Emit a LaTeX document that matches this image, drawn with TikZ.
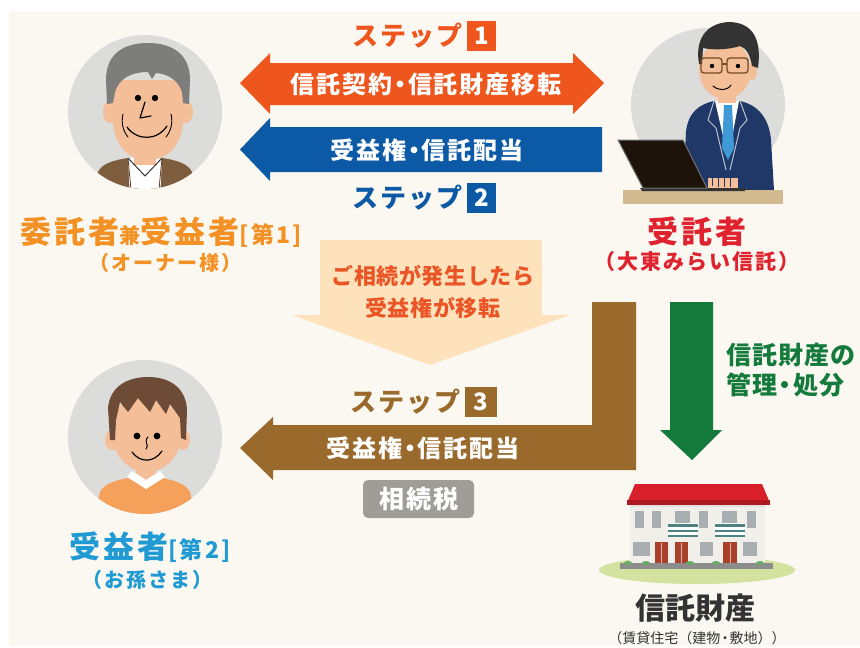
\documentclass[tikz,border=0pt]{standalone}
\usepackage{fontspec}
\newfontfamily\jp{Noto Sans CJK JP}
\newcommand{\fsz}[1]{\fontsize{#1}{#1}\selectfont}
\newcommand{\spaced}[1]{\addfontfeature{LetterSpace=#1}}
\newcommand{\tdot}{\kern-0.17em・\kern-0.17em}
\definecolor{bgbeige}{HTML}{FBF8F1}
\definecolor{stepone}{HTML}{EE561D}
\definecolor{steptwo}{HTML}{0C5AA6}
\definecolor{stepthree}{HTML}{9A6A2C}
\definecolor{peach}{HTML}{FDE2BC}
\definecolor{peachtxt}{HTML}{EB5526}
\definecolor{mgreen}{HTML}{137A3C}
\definecolor{ownerorange}{HTML}{F39124}
\definecolor{trustred}{HTML}{E0222E}
\definecolor{heirblue}{HTML}{1F9AD3}
\definecolor{taxgrey}{HTML}{A09D98}
\definecolor{darktxt}{HTML}{333333}
\definecolor{avatarbg}{HTML}{DCDCDA}
\definecolor{skin}{HTML}{F4BE98}
\definecolor{greyhair}{HTML}{7D7D7B}
\definecolor{jacket}{HTML}{7E5C3E}
\definecolor{boyhair}{HTML}{6E4B36}
\definecolor{boyshirt}{HTML}{F5A15B}
\definecolor{suit}{HTML}{1F3868}
\definecolor{tieblue}{HTML}{3E9AD6}
\definecolor{desk}{HTML}{D2B98F}
\definecolor{roof}{HTML}{D7202A}
\definecolor{roofdark}{HTML}{AE1820}
\definecolor{wall}{HTML}{F1EFE9}
\definecolor{winGrey}{HTML}{A9AEB0}
\definecolor{door}{HTML}{A8402A}
\definecolor{lawn}{HTML}{D3E29E}
\tikzset{
  jt/.style={font=\jp\bfseries, inner sep=0pt},
  steplabel/.style={jt, font=\jp\bfseries\fsz{26}\spaced{8}, anchor=east},
  stepnum/.style={jt, font=\jp\bfseries\fsz{24}, text=white, minimum width=29pt, minimum height=30pt},
  arrowtxt/.style={jt, font=\jp\bfseries\fsz{24}\spaced{8}, text=white},
  feature/.style={line width=1.2pt, line cap=round, line join=round},
}
\begin{document}
\begin{tikzpicture}[x=1pt,y=-1pt]
% page and panel
\fill[white] (0,0) rectangle (860,648);
\useasboundingbox (0,0) rectangle (860,648);
\fill[bgbeige] (9,11) rectangle (860,646);

% ---------- owner avatar ----------
\coordinate (owner) at (145,112);
\begin{scope}
  \clip (owner) circle[radius=77];
  \fill[avatarbg] (owner) circle[radius=77];
  \fill[jacket] (90,200) -- (98,172) .. controls (102,163) and (115,160) .. (128,158)
        -- (162,158) .. controls (175,160) and (188,163) .. (192,172) -- (200,200) -- cycle;
  \fill[white] (128,158) -- (162,158) -- (160,200) -- (130,200) -- cycle;
  \fill[skin] (134,140) rectangle (156,165);
  \draw[darktxt, line width=1pt] (128,158) -- (145,176) -- (162,158);
  \draw[jacket!70!black, line width=0.8pt] (128,158) -- (132,200) (162,158) -- (158,200);
  % ears
  \fill[skin] (110,112) ellipse[x radius=7, y radius=11];
  \fill[skin] (186,112) ellipse[x radius=7, y radius=11];
  % face
  \fill[skin] (113,80) -- (113,122) .. controls (115,148) and (130,160) .. (148,160)
        .. controls (166,160) and (181,148) .. (183,122) -- (183,80) -- cycle;
  % hair
  \fill[greyhair] (107,104) -- (106,80) .. controls (106,52) and (126,43) .. (148,43)
        .. controls (172,43) and (190,54) .. (190,80) -- (189,104) -- (183,103)
        -- (182,92) .. controls (178,80) and (168,74) .. (156,73)
        -- (152,79) -- (148,72) .. controls (132,72) and (119,78) .. (115,92)
        -- (113,103) -- cycle;
  % features
  \fill[black] (138,98) circle[radius=3.2];
  \fill[black] (155,98) circle[radius=3.2];
  \draw[feature, black] (145,102) -- (140,118) -- (151,116);
  \draw[feature, black] (127,127) .. controls (137,141) and (157,141) .. (167,126);
  \draw[feature, black, line width=0.9pt] (123,114) .. controls (121,123) and (123,131) .. (128,137);
  \draw[feature, black, line width=0.9pt] (171,114) .. controls (173,123) and (171,131) .. (166,137);
\end{scope}

% ---------- trustee avatar ----------
\coordinate (trustee) at (708,105);
\fill[avatarbg] (trustee) circle[radius=77];
% suit
\fill[suit] (683,190) -- (686,132) .. controls (688,112) and (700,104) .. (714,101)
      -- (740,101) .. controls (758,105) and (769,118) .. (771,140) -- (774,190) -- cycle;
\draw[white!70!suit, line width=1pt] (714,101) -- (708,120) -- (716,128) -- (726,170);
\draw[white!70!suit, line width=1pt] (740,101) -- (747,120) -- (740,128) -- (730,170);
\fill[white] (715,101) -- (739,101) -- (728,158) -- cycle;
\fill[tieblue] (724,105) -- (732,105) -- (734,148) -- (728,160) -- (722,148) -- cycle;
\fill[skin] (718,85) rectangle (736,103);
% head
\fill[skin] (752,72) ellipse[x radius=5, y radius=8];
\fill[skin] (725,70) ellipse[x radius=26, y radius=29];
\fill[darktxt] (699,64) .. controls (695,40) and (705,24) .. (728,22)
      .. controls (752,22) and (762,38) .. (758,68) -- (752,66)
      .. controls (750,54) and (746,48) .. (740,46)
      .. controls (728,50) and (712,50) .. (703,48) -- (702,64) -- cycle;
\draw[brown!60!black, line width=1.3pt, rounded corners=3pt] (701,58) rectangle (722,73);
\draw[brown!60!black, line width=1.3pt, rounded corners=3pt] (727,58) rectangle (748,73);
\draw[brown!60!black, line width=1.3pt] (722,64) -- (727,64);
\fill[black] (712,66) circle[radius=2.2];
\fill[black] (738,66) circle[radius=2.2];
\draw[feature, black, line width=1pt] (713,86) .. controls (719,91) and (727,91) .. (731,85);
% desk
\fill[desk] (623,190) rectangle (783,204);
% laptop
\fill[black!80] (640,188) -- (745,188) -- (745,191) -- (642,191) -- cycle;
\fill[black!85!brown] (618,140) -- (683,140) -- (707,188) -- (643,188) -- cycle;
\draw[black!55, line width=1pt] (618,140) -- (683,140) -- (707,188) -- (643,188) -- cycle;
\fill[skin] (708,178) rectangle (738,188);
\draw[suit] (712,178) -- (712,186) (718,178) -- (718,187) (724,178) -- (724,187) (730,178) -- (730,187);

% ---------- heir avatar ----------
\coordinate (heir) at (145,437);
\begin{scope}
  \clip (heir) circle[radius=77];
  \fill[avatarbg] (heir) circle[radius=77];
  \fill[boyshirt] (92,530) -- (100,492) .. controls (104,484) and (116,480) .. (128,478)
        -- (162,478) .. controls (174,480) and (186,484) .. (190,492) -- (198,530) -- cycle;
  \fill[skin] (136,462) rectangle (156,480);
  \fill[white] (127,477) -- (146,489) -- (165,477) -- (160,471) -- (146,480) -- (132,471) -- cycle;
  \fill[skin] (112,440) ellipse[x radius=7, y radius=10];
  \fill[skin] (183,440) ellipse[x radius=7, y radius=10];
  \fill[skin] (147,432) ellipse[x radius=35, y radius=40];
  \fill[boyhair] (110,440) -- (108,408) .. controls (110,386) and (128,377) .. (148,377)
        .. controls (170,377) and (186,388) .. (187,410) -- (186,440) -- (181,438)
        -- (180,418) -- (170,404) -- (166,414) -- (156,400) -- (150,412) -- (138,398)
        -- (128,412) -- (120,402) -- (116,420) -- (115,440) -- cycle;
  \fill[black] (137,436) circle[radius=3.4];
  \fill[black] (157,436) circle[radius=3.4];
  \draw[feature, black, line width=1pt] (148,437) .. controls (143,442) and (150,445) .. (146,449);
  \draw[feature, black] (132,452) .. controls (140,463) and (154,463) .. (162,451);
\end{scope}

% ---------- step 1: double arrow ----------
\fill[stepone] (240,83) -- (270,53) -- (270,63) -- (573,63) -- (573,53) -- (604,83)
      -- (573,114) -- (573,105) -- (270,105) -- (270,114) -- cycle;
\node[arrowtxt] (contract) at (426,84) {信託契約\tdot 信託財産移転};
\node[steplabel, text=stepone] (s1) at (463,36) {ステップ};
\node[stepnum, fill=stepone] (n1) at (481.5,35.5) {1};

% ---------- step 2: arrow back to owner ----------
\fill[steptwo] (240,149.5) -- (270,118) -- (270,127) -- (602,127) -- (602,172)
      -- (270,172) -- (270,181) -- cycle;
\node[arrowtxt] (benefit1) at (427,150) {受益権\tdot 信託配当};
\node[steplabel, text=steptwo] (s2) at (463,198) {ステップ};
\node[stepnum, fill=steptwo] (n2) at (481.5,197.5) {2};

% ---------- succession arrow ----------
\fill[peach] (320,240) -- (542,240) -- (542,315) -- (570,315) -- (430,365)
      -- (292,315) -- (320,315) -- cycle;
\node[jt, font=\jp\bfseries\fsz{22}\spaced{3}, text=peachtxt] (succ1) at (433,276) {ご相続が発生したら};
\node[jt, font=\jp\bfseries\fsz{22}\spaced{3}, text=peachtxt] (succ2) at (433,308) {受益権が移転};

% ---------- step 3: L-shaped arrow to heir ----------
\fill[stepthree] (592,302) -- (636,302) -- (636,470) -- (273,470) -- (273,480)
      -- (240,448) -- (273,417) -- (273,425) -- (592,425) -- cycle;
\node[arrowtxt] (benefit2) at (423,448) {受益権\tdot 信託配当};
\node[steplabel, text=stepthree] (s3) at (461,402) {ステップ};
\node[stepnum, fill=stepthree, minimum width=32pt] (n3) at (481,401.5) {3};
\node[jt, font=\jp\bfseries\fsz{25}\spaced{8}, text=white, fill=taxgrey, rounded corners=5pt,
      minimum width=111pt, minimum height=38pt] (tax) at (418.5,499) {相続税};

% ---------- management arrow ----------
\fill[mgreen] (670,302) -- (713,302) -- (713,430) -- (722,430) -- (692,460)
      -- (660,430) -- (670,430) -- cycle;
\node[jt, font=\jp\bfseries\fsz{25}\spaced{4}, text=mgreen, anchor=west] (mg1) at (726,355) {信託財産の};
\node[jt, font=\jp\bfseries\fsz{25}\spaced{4}, text=mgreen, anchor=west] (mg2) at (726,385) {管理\tdot 処分};

% ---------- rental housing ----------
\fill[lawn] (697,570) ellipse[x radius=98, y radius=14];
\fill[wall] (630,503) rectangle (765,565);
\fill[black!12] (630,503) rectangle (765,507);
\foreach \xa/\xb in {635/644,652/661,675/690,699/708,722/737,747/756}
  \fill[winGrey] (\xa,511) rectangle (\xb,528);
\foreach \xa in {668,715}{
  \fill[white] (\xa,523) rectangle ++(30,14);
  \fill[teal!60!black!70] (\xa,524) rectangle ++(30,2.5);
  \fill[teal!60!black!70] (\xa,530) rectangle ++(30,2);
  \fill[teal!60!black!70] (\xa,535) rectangle ++(30,2);
}
\foreach \xa/\xb in {633/650,700/713,743/757}
  \fill[winGrey] (\xa,542) rectangle (\xb,556);
\foreach \xa/\xb in {655/668,675/688,723/737}{
  \fill[door] (\xa,542) rectangle (\xb,565);
  \draw[white!60!door, line width=0.5pt] ({(\xa+\xb)/2},543) -- ({(\xa+\xb)/2},564);
}
\fill[black!45] (620,563) rectangle (773,569);
\foreach \xb in {628,646,690,716,760}
  \fill[green!45!black!60] (\xb,563) ellipse[x radius=4, y radius=2];
\fill[roof] (627,503) -- (635,484) -- (762,484) -- (770,503) -- cycle;
\fill[roofdark] (627,500) rectangle (770,505);
\node[jt, font=\jp\bfseries\fsz{30}, text=darktxt] (prop) at (695,608) {信託財産};
\node[jt, font=\jp\fsz{14}, text=darktxt] (propsub) at (697,638) {（賃貸住宅（建物\tdot 敷地））};

% ---------- party labels ----------
\node[jt, text=ownerorange, font=\jp\bfseries\spaced{10}] (ownerlbl) at (161,232)
  {{\fsz{31}委託者}{\fsz{21}兼}{\fsz{31}受益者}{\fsz{23}[第1]}};
\node[jt, font=\jp\bfseries\fsz{20}\spaced{10}, text=ownerorange] (ownersub) at (165,263) {（オーナー様）};
\node[jt, font=\jp\bfseries\fsz{31}\spaced{10}, text=trustred] (trusteelbl) at (697,232) {受託者};
\node[jt, font=\jp\bfseries\fsz{21}\spaced{10}, text=trustred] (trusteesub) at (697,262) {（大東みらい信託）};
\node[jt, text=heirblue, font=\jp\bfseries\spaced{10}] (heirlbl) at (150,547) {{\fsz{31}受益者}{\fsz{23}[第2]}};
\node[jt, font=\jp\bfseries\fsz{20}\spaced{10}, text=heirblue] (heirsub) at (147,580) {（お孫さま）};
\end{tikzpicture}
\end{document}
